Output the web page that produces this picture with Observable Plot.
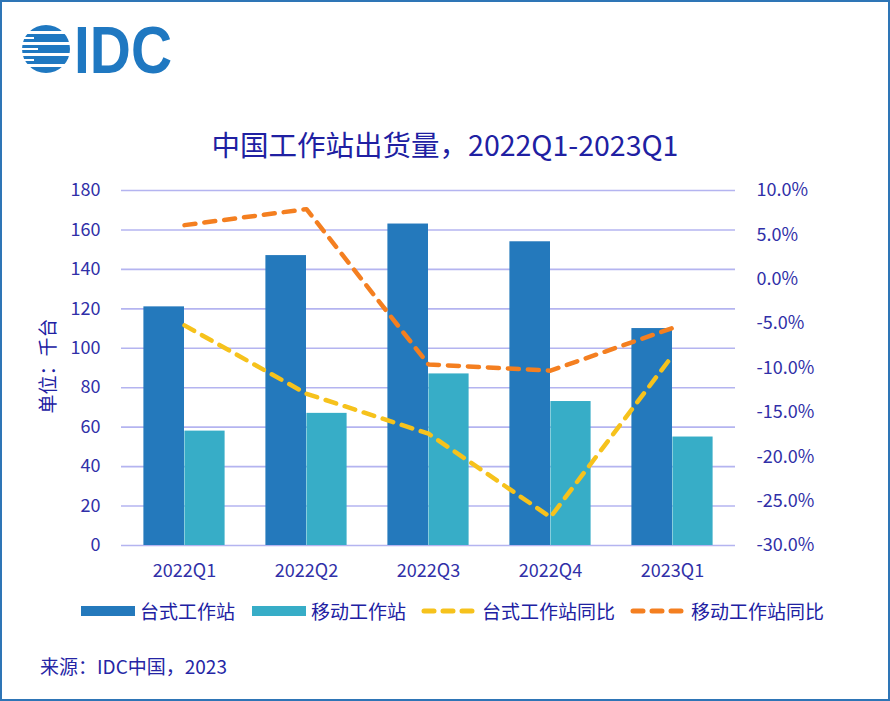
<!DOCTYPE html>
<html>
<head>
<meta charset="utf-8">
<script src="https://cdn.jsdelivr.net/npm/d3@7"></script>
<script src="https://cdn.jsdelivr.net/npm/@observablehq/plot@0.6"></script>
<style>
  html, body { margin: 0; padding: 0; background: #fff; }
  #wrap { position: relative; width: 890px; height: 701px; overflow: hidden; background: #fff;
          font-family: "Noto Sans CJK SC", "Noto Sans", sans-serif; }
  #border { position: absolute; left: 0; top: 0; width: 890px; height: 701px; box-sizing: border-box;
            border: 2px solid #2E75B6; pointer-events: none; z-index: 5; }
  #chart { position: absolute; left: 0; top: 0; }
  .abs { position: absolute; white-space: nowrap; z-index: 3; }
  #title { left: 0; width: 890px; top: 124px; text-align: center; font-size: 28.5px; color: #2020A2; line-height: 40px; }
  #ylabel { left: 47px; top: 366px; font-size: 19px; color: #2020A2; transform: translate(-50%, -50%) rotate(-90deg); line-height: 24px; }
  #legend { left: 0; top: 599px; height: 24px; width: 890px; font-size: 19px; color: #2020A2; line-height: 24px; }
  .item { position: absolute; top: 0; display: flex; align-items: center; height: 24px; }
  .sw { display: inline-block; width: 54px; height: 10px; margin-right: 5px; }
  #caption { left: 40px; top: 654px; font-size: 19px; color: #2525A5; line-height: 24px; }
</style>
</head>
<body>
<div id="wrap">
  <div id="chart"></div>
  <svg class="abs" style="left:0;top:0" width="200" height="100" viewBox="0 0 200 100">
    <defs>
      <clipPath id="globe"><circle cx="46" cy="49" r="24"/></clipPath>
    </defs>
    <g clip-path="url(#globe)" fill="#1F78C1">
      <rect x="20" y="25" width="60" height="6"/>
      <rect x="20" y="34" width="60" height="8"/>
      <rect x="20" y="45" width="60" height="8"/>
      <rect x="20" y="56" width="60" height="8"/>
      <rect x="20" y="67" width="60" height="7"/>
    </g>
    <g fill="#fff">
      <rect x="20" y="37" width="14" height="2"/>
      <rect x="20" y="48" width="18" height="2"/>
      <rect x="20" y="59" width="14" height="2"/>
    </g>
    <text x="74" y="73" font-family="Liberation Sans, Arial, sans-serif" font-weight="700" font-size="66"
          fill="#1F78C1" textLength="98" lengthAdjust="spacingAndGlyphs">IDC</text>
  </svg>
  <div id="title" class="abs">中国工作站出货量，2022Q1-2023Q1</div>
  <div id="ylabel" class="abs">单位：千台</div>
  <div id="legend" class="abs"></div>
  <div id="caption" class="abs">来源：IDC中国，2023</div>
  <div id="border"></div>
</div>
<script>
// ---- data ----
const quarters = ["2022Q1", "2022Q2", "2022Q3", "2022Q4", "2023Q1"];
const desktop = [121, 147, 163, 154, 110];          // 台式工作站 (千台)
const mobile = [58, 67, 87, 73, 55];                // 移动工作站 (千台)
const desktopYoY = [-5.2, -12.9, -17.4, -26.8, -8.6]; // 台式工作站同比 (%)
const mobileYoY = [6.1, 7.9, -9.6, -10.3, -5.5];     // 移动工作站同比 (%)
const leftTicks = [0, 20, 40, 60, 80, 100, 120, 140, 160, 180];
const rightTicks = [10, 5, 0, -5, -10, -15, -20, -25, -30];
const seriesNames = ["台式工作站", "移动工作站", "台式工作站同比", "移动工作站同比"];

const colors = { desktop: "#2479BC", mobile: "#37ADC7", dyoy: "#F6C21C", myoy: "#F47F20" };

const table = quarters.map((q, i) => ({ q, desktop: desktop[i], mobile: mobile[i], dy: desktopYoY[i], my: mobileYoY[i] }));
// map the right (percent) axis onto the left scale: -30% -> 0, 10% -> 180
const toLeft = p => (p + 30) * 4.5;
const fromLeft = v => v / 4.5 - 30;

const chart = Plot.plot({
  width: 890,
  height: 590,
  marginTop: 190,
  marginBottom: 45,
  marginLeft: 121,
  marginRight: 155,
  style: { background: "transparent", fontFamily: "'Noto Sans CJK SC', 'Noto Sans', sans-serif", fontSize: "18px", color: "#3030A8", overflow: "visible" },
  x: { type: "band", domain: quarters, padding: 0, label: null },
  y: { domain: [0, 180], label: null },
  marks: [
    Plot.gridY(leftTicks, { stroke: "#B4B4F0", strokeOpacity: 1, strokeWidth: 1.6 }),
    Plot.barY(table, { x: "q", y: "desktop", fill: colors.desktop, insetLeft: 20.4, insetRight: 61.0 }),
    Plot.barY(table, { x: "q", y: "mobile", fill: colors.mobile, insetLeft: 61.4, insetRight: 20.4 }),
    Plot.line(table, { x: "q", y: d => toLeft(d.dy), stroke: colors.dyoy, strokeWidth: 4.5, strokeDasharray: "11,9", strokeLinecap: "round", strokeLinejoin: "round" }),
    Plot.line(table, { x: "q", y: d => toLeft(d.my), stroke: colors.myoy, strokeWidth: 4.5, strokeDasharray: "11,9", strokeLinecap: "round", strokeLinejoin: "round" }),
    Plot.axisY(leftTicks, { anchor: "left", tickSize: 0, tickPadding: 21, label: null }),
    Plot.axisY(rightTicks.map(toLeft), { anchor: "right", tickSize: 0, tickPadding: 21, label: null,
      tickFormat: v => (Math.round(fromLeft(v) * 10) / 10).toFixed(1) + "%" }),
    Plot.axisX({ tickSize: 0, tickPadding: 19, label: null })
  ]
});
document.getElementById("chart").appendChild(chart);

// ---- legend ----
const legend = document.getElementById("legend");
const legendX = [81, 252, 421, 630];
const kinds = ["bar", "bar", "line", "line"];
const legendColors = [colors.desktop, colors.mobile, colors.dyoy, colors.myoy];
seriesNames.forEach((name, i) => {
  const item = document.createElement("div");
  item.className = "item";
  item.style.left = legendX[i] + "px";
  if (kinds[i] === "bar") {
    const sw = document.createElement("span");
    sw.className = "sw";
    sw.style.background = legendColors[i];
    item.appendChild(sw);
  } else {
    const ns = "http://www.w3.org/2000/svg";
    const svg = document.createElementNS(ns, "svg");
    svg.setAttribute("width", "56");
    svg.setAttribute("height", "12");
    svg.style.marginRight = "5px";
    const ln = document.createElementNS(ns, "line");
    ln.setAttribute("x1", "3"); ln.setAttribute("x2", "53");
    ln.setAttribute("y1", "6"); ln.setAttribute("y2", "6");
    ln.setAttribute("stroke", legendColors[i]);
    ln.setAttribute("stroke-width", "5");
    ln.setAttribute("stroke-linecap", "round");
    ln.setAttribute("stroke-dasharray", "10,9");
    svg.appendChild(ln);
    item.appendChild(svg);
  }
  const t = document.createElement("span");
  t.textContent = name;
  item.appendChild(t);
  legend.appendChild(item);
});
</script>
</body>
</html>
